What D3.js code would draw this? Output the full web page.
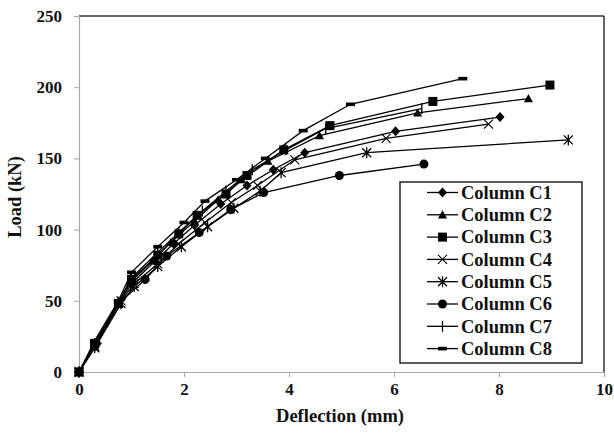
<!DOCTYPE html>
<html><head><meta charset="utf-8">
<script src="https://cdn.jsdelivr.net/npm/d3@7"></script>
<style>body{margin:0;background:#fff}</style>
</head><body><svg id="c" width="614" height="436"></svg>
<script>
const xTicks=[0,2,4,6,8,10];
const yTicks=[0,50,100,150,200,250];
const seriesNames=["Column C1","Column C2","Column C3","Column C4","Column C5","Column C6","Column C7","Column C8"];
const markerTypes=["diamond","triangle","square","x","asterisk","circle","plus","dash"];
const c1=[[0,0],[0.35,20],[0.75,48],[1.0,62],[1.45,78],[1.8,90],[2.2,103],[2.7,118],[3.2,131],[3.7,142],[4.3,154],[6.03,169],[8.02,179]];
const c2=[[0,0],[0.3,19],[0.75,48],[0.98,63],[1.4,78],[1.75,91],[2.2,106],[2.65,121],[3.1,135],[3.6,148],[4.58,166],[6.45,182],[8.56,192]];
const c3=[[0,0],[0.3,20],[0.75,48],[1.0,65],[1.5,82],[1.9,97],[2.25,110],[2.8,125],[3.2,138],[3.9,156],[4.78,173],[6.74,190],[8.97,201.5]];
const c4=[[0,0],[0.3,18],[0.8,50],[1.05,62],[1.5,76],[1.9,90],[2.4,105],[2.9,119],[3.4,131],[4.11,149],[5.85,164],[7.8,174]];
const c5=[[0,0],[0.3,17],[0.8,48],[1.05,60],[1.5,74],[1.95,88],[2.45,102],[2.95,115],[3.45,127],[3.85,140],[5.48,154],[9.32,163]];
const c6=[[0,0],[0.3,18],[0.75,48],[1.26,65],[1.67,81.5],[2.29,98],[2.89,114],[3.52,126],[4.96,138],[6.57,146]];
const c7=[[0,0],[0.3,20],[0.75,49],[1.0,66],[1.5,84],[1.9,98],[2.35,113],[2.8,127],[3.3,142],[3.94,156],[4.7,171],[6.53,185]];
const c8=[[0,0],[0.3,22],[0.75,50],[1.0,70],[1.5,88],[2.0,105],[2.4,120],[3.0,135],[3.55,150],[4.27,169.5],[5.17,188],[7.31,206]];
const allSeries=[c1,c2,c3,c4,c5,c6,c7,c8];

const FONT='"Liberation Serif","Times New Roman",serif';
const svg=d3.select("#c");
const L=79,R=604,T=16,B=372;
const x=d3.scaleLinear().domain([0,10]).range([L,R]);
const y=d3.scaleLinear().domain([0,250]).range([B,T]);

svg.append("line").attr("x1",L).attr("x2",R).attr("y1",T).attr("y2",T).attr("stroke","#333").attr("stroke-width",1.5);
svg.append("line").attr("x1",R).attr("x2",R).attr("y1",T).attr("y2",B).attr("stroke","#333").attr("stroke-width",1.5);

const xa=svg.append("g").attr("transform",`translate(0,${B})`).call(d3.axisBottom(x).tickValues(xTicks).tickSize(5).tickPadding(6).tickFormat(d3.format("d")));
const ya=svg.append("g").attr("transform",`translate(${L},0)`).call(d3.axisLeft(y).tickValues(yTicks).tickSize(5).tickPadding(12).tickFormat(d3.format("d")));
[xa,ya].forEach(a=>{
  a.attr("font-family",null).attr("font-size",null);
  a.select(".domain").attr("stroke","#a6a6a6").attr("stroke-width",1.2);
  a.selectAll(".tick line").attr("stroke","#a6a6a6");
  a.selectAll("text").style("font-family",FONT).style("font-weight","bold").style("font-size","17px").attr("fill","#111");
});

function label(sel){return sel.style("font-family",FONT).style("font-weight","bold").attr("fill","#111");}
label(svg.append("text").attr("x",340).attr("y",422).attr("text-anchor","middle").style("font-size","18.5px").text("Deflection (mm)"));
label(svg.append("text").attr("transform","translate(21,197) rotate(-90)").attr("text-anchor","middle").style("font-size","18.5px").text("Load (kN)"));

function marker(g,type,cx,cy){
  const s=4.5;
  if(type==="diamond")g.append("path").attr("d",`M${cx},${cy-s-0.5}L${cx+s},${cy}L${cx},${cy+s+0.5}L${cx-s},${cy}Z`).attr("fill","#000");
  else if(type==="triangle")g.append("path").attr("d",`M${cx},${cy-s}L${cx+s},${cy+s*0.8}L${cx-s},${cy+s*0.8}Z`).attr("fill","#000");
  else if(type==="square")g.append("rect").attr("x",cx-s).attr("y",cy-s).attr("width",2*s).attr("height",2*s).attr("fill","#000");
  else if(type==="circle")g.append("circle").attr("cx",cx).attr("cy",cy).attr("r",s).attr("fill","#000");
  else if(type==="x")g.append("path").attr("d",`M${cx-s},${cy-s}L${cx+s},${cy+s}M${cx-s},${cy+s}L${cx+s},${cy-s}`).attr("stroke","#000").attr("stroke-width",1.1);
  else if(type==="asterisk")g.append("path").attr("d",`M${cx-s},${cy-s}L${cx+s},${cy+s}M${cx-s},${cy+s}L${cx+s},${cy-s}M${cx},${cy-s-1}L${cx},${cy+s+1}`).attr("stroke","#000").attr("stroke-width",1.3);
  else if(type==="plus")g.append("path").attr("d",`M${cx},${cy-s-1}L${cx},${cy+s+1}`).attr("stroke","#000").attr("stroke-width",1.3);
  else if(type==="dash")g.append("rect").attr("x",cx-s).attr("y",cy-1.8).attr("width",2*s).attr("height",3.6).attr("fill","#000");
}

const line=d3.line().x(d=>x(d[0])).y(d=>y(d[1]));
allSeries.forEach((data,i)=>{
  const g=svg.append("g");
  g.append("path").datum(data).attr("d",line).attr("fill","none").attr("stroke","#000").attr("stroke-width",1.3);
  data.forEach(d=>marker(g,markerTypes[i],x(d[0]),y(d[1])));
});

const lg=svg.append("g");
lg.append("rect").attr("x",400).attr("y",182).attr("width",182).attr("height",181).attr("fill","#fff").attr("stroke","#222").attr("stroke-width",1.5);
seriesNames.forEach((n,i)=>{
  const cy=192.5+i*22.3;
  lg.append("line").attr("x1",427).attr("x2",458).attr("y1",cy).attr("y2",cy).attr("stroke","#000").attr("stroke-width",1.3);
  marker(lg,markerTypes[i],442.5,cy);
  label(lg.append("text").attr("x",461).attr("y",cy).attr("dy","0.34em").style("font-size","18.5px").text(n));
});
</script></body></html>
